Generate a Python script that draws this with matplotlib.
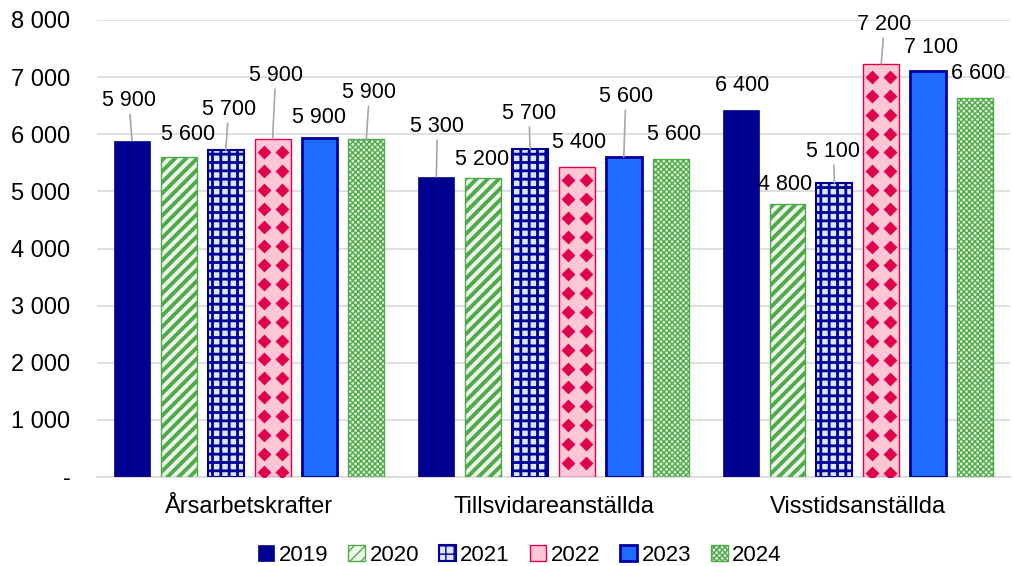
import numpy as np
import matplotlib
matplotlib.use("Agg")
import matplotlib.pyplot as plt

plt.rcParams['font.family'] = ['Liberation Sans', 'DejaVu Sans']

# Data
categories = ["Årsarbetskrafter", "Tillsvidareanställda", "Visstidsanställda"]
years = ["2019", "2020", "2021", "2022", "2023", "2024"]
v2019 = [5884, 5254, 6427]
v2020 = [5604, 5236, 4781]
v2021 = [5727, 5745, 5149]
v2022 = [5919, 5429, 7233]
v2023 = [5937, 5604, 7110]
v2024 = [5919, 5569, 6640]
series = [v2019, v2020, v2021, v2022, v2023, v2024]

# label placement (pixel offset from bar top, leader line yes/no), per year then category
label_pos = {
    "2019": [(-3, 40, True), (1, 50, True), (1, 24, False)],
    "2020": [(9, 22, False), (-1, 18, False), (-2, 19, False)],
    "2021": [(3, 40, True), (-1, 35, True), (-1, 31, True)],
    "2022": [(3, 63, True), (2, 24, False), (3, 39, True)],
    "2023": [(0, 20, False), (2, 60, True), (3, 23, False)],
    "2024": [(3, 46, True), (3, 24, False), (3, 24, False)],
}

styles = {
    "2019": dict(facecolor="#000090", edgecolor="#000090", linewidth=0.5, hatch=None, hlw=1.0),
    "2020": dict(facecolor="#F0F8EC", edgecolor="#4EAA4A", linewidth=1.0, hatch="///", hlw=2.8),
    "2021": dict(facecolor="#DCE6F5", edgecolor="#000099", linewidth=1.5, hatch="++", hlw=2.0),
    "2022": dict(facecolor="#FFC6D5", edgecolor="#E0004D", linewidth=1.0, hatch=None, hlw=1.0),
    "2023": dict(facecolor="#1F6BFF", edgecolor="#0000A0", linewidth=2.0, hatch=None, hlw=1.0),
    "2024": dict(facecolor="#E4F2DE", edgecolor="#4EAA4A", linewidth=1.0, hatch="xxxxxx", hlw=1.0),
}

fig = plt.figure(figsize=(10.13, 5.66), dpi=100)
ax = fig.add_axes([97 / 1013, (566 - 477) / 566, (1010 - 97) / 1013, (477 - 20) / 566])

x = np.arange(len(categories))
width = 0.118
step = 0.154

handles = []
for i, (yr, vals) in enumerate(zip(years, series)):
    st = styles[yr]
    pos = x + (i - 2.5) * step
    with plt.rc_context({'hatch.linewidth': st["hlw"]}):
        bars = ax.bar(pos, vals, width, facecolor=st["facecolor"], edgecolor=st["edgecolor"],
                      linewidth=st["linewidth"], hatch=st["hatch"], label=yr, zorder=3)
    handles.append(bars)

    # diamond pattern for 2022
    if yr == "2022":
        for b in bars:
            bx0, bw, bh = b.get_x(), b.get_width(), b.get_height()
            xs = [bx0 + bw * 0.25, bx0 + bw * 0.75]
            ys = np.arange(bh - 230, 0, -330)
            gx, gy = np.meshgrid(xs, ys)
            sc = ax.scatter(gx.ravel(), gy.ravel(), marker="D", s=50, color="#E0004D",
                            linewidths=0, zorder=4)
            sc.set_clip_path(b)

    for j, b in enumerate(bars):
        dx, dy, lead = label_pos[yr][j]
        txt = f"{int(round(vals[j], -2)):,}".replace(",", " ")
        cx = b.get_x() + b.get_width() / 2
        ap = dict(arrowstyle="-", color="#A6A6A6", lw=1.2, shrinkA=0, shrinkB=0) if lead else None
        ax.annotate(txt, xy=(cx, vals[j]), xytext=(dx, dy), textcoords="offset pixels",
                    ha="center", va="center", fontsize=15.5, color="#000000",
                    arrowprops=ap, zorder=5)

ax.set_ylim(0, 8000)
ax.set_xlim(-0.5, 2.5)
ax.set_yticks(np.arange(0, 8001, 1000))
ax.set_yticklabels(["-" if t == 0 else f"{t:,}".replace(",", " ") for t in range(0, 8001, 1000)])
ax.set_xticks(x)
ax.set_xticklabels(categories)
ax.tick_params(axis="both", length=0, labelsize=17)
ax.tick_params(axis="y", pad=19)
ax.tick_params(axis="x", pad=14)
ax.grid(axis="y", color="#D9D9D9", linewidth=1.2, zorder=0)
ax.set_axisbelow(True)
for s in ["top", "right", "left"]:
    ax.spines[s].set_visible(False)
ax.spines["bottom"].set_color("#D9D9D9")
ax.spines["bottom"].set_linewidth(1.2)

fig.legend(handles=handles, labels=years, loc="lower center", bbox_to_anchor=(0.513, -0.035),
           ncol=6, frameon=False, fontsize=16, handlelength=0.75, handleheight=0.75,
           handletextpad=0.2, columnspacing=0.9)

fig.savefig("out.png", dpi=100)
